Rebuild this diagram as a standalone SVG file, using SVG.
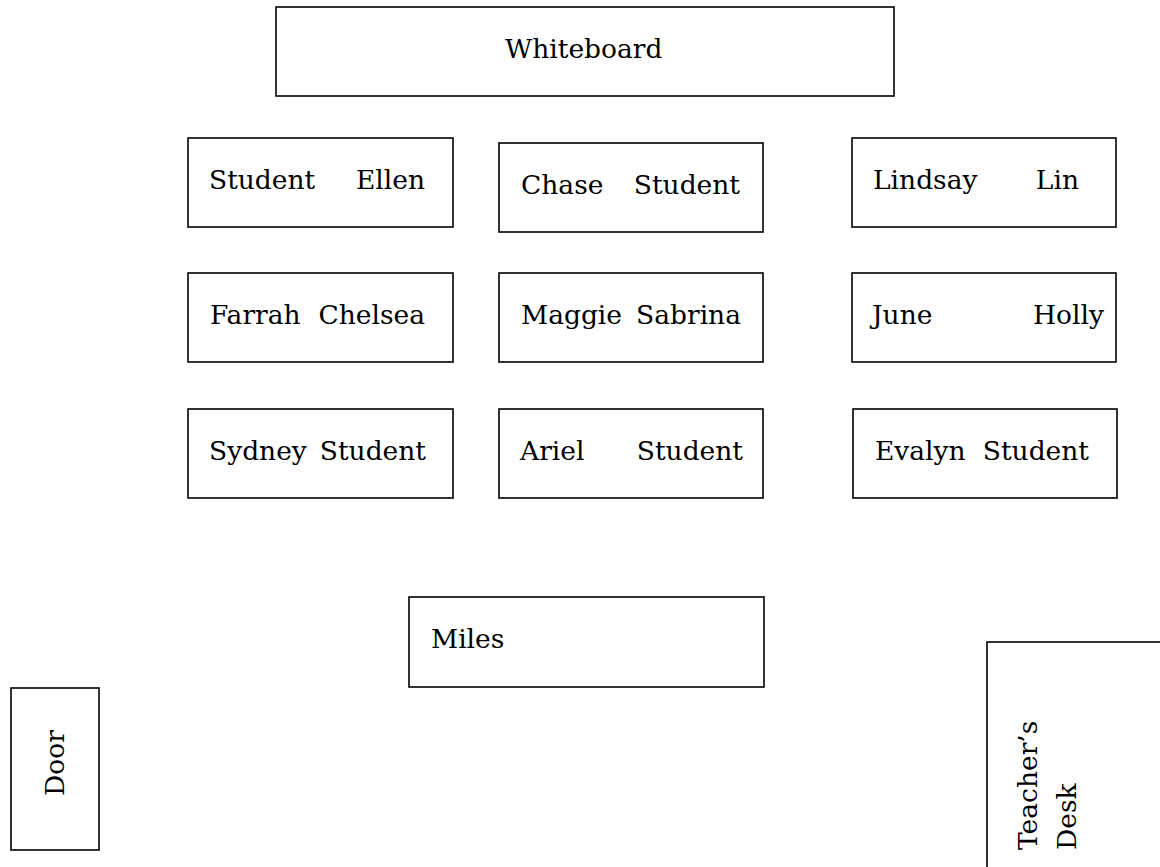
<svg xmlns="http://www.w3.org/2000/svg" width="1160" height="867" viewBox="0 0 1160 867">
<style>
rect{fill:#fff;stroke:#000;stroke-width:1.6}
text{font-family:"DejaVu Serif","Liberation Serif",serif;font-size:26.5px;fill:#000}
.e{text-anchor:end}
</style>
<rect x="0" y="0" width="1160" height="867" style="stroke:none"/>
<g id="whiteboard"><rect x="276" y="7" width="618" height="89"/><text x="505" y="58">Whiteboard</text></g>
<g id="desk-r1c1"><rect x="188" y="138" width="265" height="89"/><text x="209" y="189">Student</text><text class="e" x="425" y="189">Ellen</text></g>
<g id="desk-r1c2"><rect x="499" y="143" width="264" height="89"/><text x="521" y="194">Chase</text><text class="e" x="740" y="194">Student</text></g>
<g id="desk-r1c3"><rect x="852" y="138" width="264" height="89"/><text x="873" y="189">Lindsay</text><text class="e" x="1079" y="189">Lin</text></g>
<g id="desk-r2c1"><rect x="188" y="273" width="265" height="89"/><text x="210" y="324">Farrah</text><text class="e" x="425" y="324">Chelsea</text></g>
<g id="desk-r2c2"><rect x="499" y="273" width="264" height="89"/><text x="521" y="324">Maggie</text><text class="e" x="741" y="324">Sabrina</text></g>
<g id="desk-r2c3"><rect x="852" y="273" width="264" height="89"/><text x="872" y="324">June</text><text class="e" x="1104" y="324">Holly</text></g>
<g id="desk-r3c1"><rect x="188" y="409" width="265" height="89"/><text x="209" y="460">Sydney</text><text class="e" x="426" y="460">Student</text></g>
<g id="desk-r3c2"><rect x="499" y="409" width="264" height="89"/><text x="520" y="460">Ariel</text><text class="e" x="743" y="460">Student</text></g>
<g id="desk-r3c3"><rect x="853" y="409" width="264" height="89"/><text x="875" y="460">Evalyn</text><text class="e" x="1089" y="460">Student</text></g>
<g id="miles"><rect x="409" y="597" width="355" height="90"/><text x="431" y="648">Miles</text></g>
<g id="door"><rect x="11" y="688" width="88" height="162"/><text transform="translate(64 796) rotate(-90)">Door</text></g>
<g id="teachers-desk"><rect x="987" y="642" width="190" height="240"/><text transform="translate(1037 850) rotate(-90)">Teacher’s</text><text transform="translate(1076 850) rotate(-90)">Desk</text></g>
<g id="connectors"/>
</svg>
